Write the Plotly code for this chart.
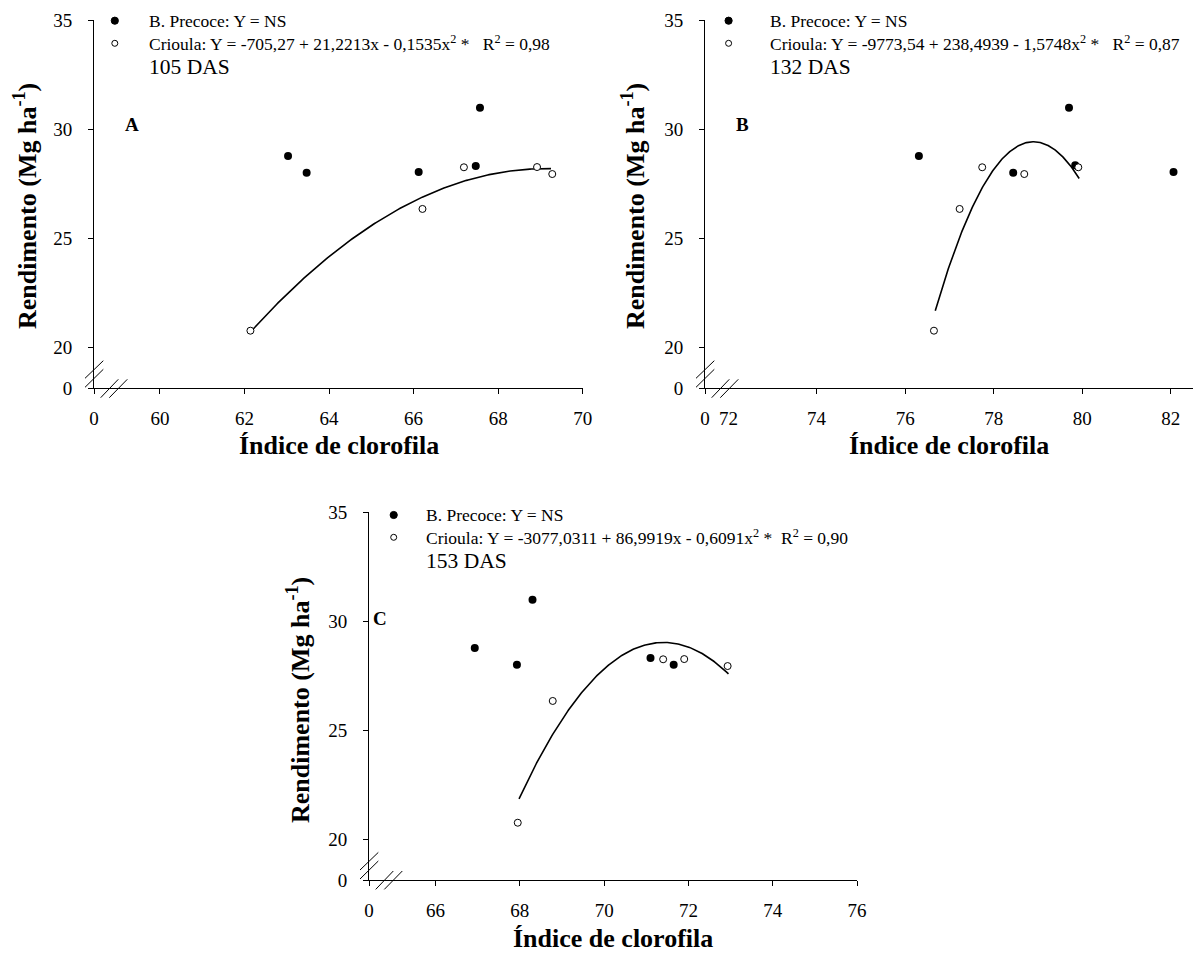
import numpy as np
import plotly.graph_objects as go

W, H = 1193, 954
SERIF = "Liberation Serif"

# ---------------- data ----------------
panels = ["A", "B", "C"]
das_labels = ["105 DAS", "132 DAS", "153 DAS"]

a_precoce_x = [63.03, 63.47, 66.12, 67.47, 67.57]
a_precoce_y = [28.77, 28.00, 28.03, 28.31, 30.98]
a_crioula_x = [62.14, 66.21, 67.19, 68.92, 69.28]
a_crioula_y = [20.76, 26.34, 28.25, 28.26, 27.94]
a_coef = [-705.27, 21.2213, -0.1535]
a_fit_range = [62.15, 69.25]

b_precoce_x = [76.31, 78.44, 79.70, 79.84, 82.06]
b_precoce_y = [28.77, 28.00, 30.98, 28.34, 28.03]
b_crioula_x = [76.65, 77.23, 77.74, 78.69, 79.91]
b_crioula_y = [20.76, 26.34, 28.25, 27.94, 28.25]
b_coef = [-9773.29, 248.4939, -1.5748]
b_fit_range = [76.68, 79.93]

c_precoce_x = [66.93, 67.93, 68.30, 71.10, 71.65]
c_precoce_y = [28.77, 28.00, 30.98, 28.31, 28.00]
c_crioula_x = [67.95, 68.78, 71.40, 71.90, 72.93]
c_crioula_y = [20.76, 26.34, 28.25, 28.26, 27.94]
c_coef = [-3077.0311, 86.9919, -0.6091]
c_fit_range = [67.98, 72.95]

legend_precoce = "B. Precoce: Y = NS"
legend_crioula = [
    "Crioula: Y = -705,27 + 21,2213x - 0,1535x<sup>2</sup> *   R<sup>2</sup> = 0,98",
    "Crioula: Y = -9773,54 + 238,4939 - 1,5748x<sup>2</sup> *   R<sup>2</sup> = 0,87",
    "Crioula: Y = -3077,0311 + 86,9919x - 0,6091x<sup>2</sup> *  R<sup>2</sup> = 0,90",
]

x_ticks = [[60, 62, 64, 66, 68, 70], [74, 76, 78, 80, 82], [66, 68, 70, 72, 74, 76]]
y_ticks = [20, 25, 30, 35]
x_break_extra = [None, 72, None]   # label drawn next to the broken origin

# ---------------- layout geometry (pixels) ----------------
boxes = [(94, 582.7, 20, 388.3), (705, 1193, 20, 388.3), (369, 857, 512, 880)]
x_ranges = [[58.44, 70], [71.48, 82.5], [64.42, 76]]
y_ranges = [[18.12, 35], [18.12, 35], [18.135, 35]]
legend_marker_x = [114.8, 728.6, 393.7]
legend_text_x = [146.6, 767.5, 423.5]
legend_rows = [[20.7, 43.3, 66.7], [20.7, 43.3, 66.7], [515, 537.3, 561]]
letter_pos = [(132, 124), (742, 124), (380, 618)]
ytitle_pos = [(25, 206), (633, 206), (298, 700)]
xtitle_pos = [(339, 445), (949, 445), (613, 938)]


def px(x):
    return x / W


def py(y):
    return 1 - y / H


fig = go.Figure()

data = [
    (a_precoce_x, a_precoce_y, a_crioula_x, a_crioula_y, a_coef, a_fit_range),
    (b_precoce_x, b_precoce_y, b_crioula_x, b_crioula_y, b_coef, b_fit_range),
    (c_precoce_x, c_precoce_y, c_crioula_x, c_crioula_y, c_coef, c_fit_range),
]

annotations = []
shapes = []

for i, (pxs, pys, cxs, cys, coef, fr) in enumerate(data):
    sfx = "" if i == 0 else str(i + 1)
    xa, ya = "x" + sfx, "y" + sfx
    xfit = np.linspace(fr[0], fr[1], 200)
    yfit = coef[0] + coef[1] * xfit + coef[2] * xfit ** 2
    fig.add_trace(go.Scatter(x=xfit, y=yfit, mode="lines",
                             line=dict(color="black", width=1.6),
                             xaxis=xa, yaxis=ya, showlegend=False, hoverinfo="skip"))
    fig.add_trace(go.Scatter(x=pxs, y=pys, mode="markers",
                             marker=dict(symbol="circle", size=8, color="black"),
                             xaxis=xa, yaxis=ya, showlegend=False))
    fig.add_trace(go.Scatter(x=cxs, y=cys, mode="markers",
                             marker=dict(symbol="circle", size=7, color="white",
                                         line=dict(color="black", width=1)),
                             xaxis=xa, yaxis=ya, showlegend=False))

    l, r, t, b = boxes[i]
    xr, yr = x_ranges[i], y_ranges[i]
    axis_style = dict(showline=True, linecolor="black", linewidth=1, ticks="outside",
                      ticklen=5, tickwidth=1, tickcolor="black", showgrid=False,
                      zeroline=False, fixedrange=True, automargin=False,
                      tickfont=dict(family=SERIF, size=19, color="black"))
    xt = [xr[0]] + x_ticks[i]
    xtt = ["0"] + [str(v) for v in x_ticks[i]]
    yt = [yr[0]] + y_ticks
    ytt = ["0"] + [str(v) for v in y_ticks]
    fig.layout["xaxis" + sfx] = dict(axis_style, domain=[px(l), px(r)], range=xr,
                                     anchor=ya, tickvals=xt, ticktext=xtt,
                                     ticklabelstandoff=8)
    fig.layout["yaxis" + sfx] = dict(axis_style, domain=[py(b), py(t)], range=yr,
                                     anchor=xa, tickvals=yt, ticktext=ytt,
                                     ticklabelstandoff=12)

    if x_break_extra[i] is not None:
        annotations.append(dict(x=x_break_extra[i], xref=xa, y=py(b + 30), yref="paper",
                                text=str(x_break_extra[i]), showarrow=False,
                                xanchor="center", yanchor="middle",
                                font=dict(family=SERIF, size=19, color="black")))

    # axis break marks
    cx, cy = l, b
    segs = [((cx - 9, cy - 10), (cx + 9.3, cy - 27.6)),
            ((cx - 9, cy - 1), (cx + 9.3, cy - 19)),
            ((cx + 6.7, cy + 9.4), (cx + 24.3, cy - 9)),
            ((cx + 15.3, cy + 9.4), (cx + 33.3, cy - 9))]
    for (x0, y0), (x1, y1) in segs:
        shapes.append(dict(type="line", xref="paper", yref="paper",
                           x0=px(x0), y0=py(y0), x1=px(x1), y1=py(y1),
                           line=dict(color="black", width=1)))

    # legend
    mx = legend_marker_x[i]
    r0, r1, r2 = legend_rows[i]
    shapes.append(dict(type="circle", xref="paper", yref="paper",
                       x0=px(mx - 3.6), x1=px(mx + 3.6), y0=py(r0 + 3.6), y1=py(r0 - 3.6),
                       fillcolor="black", line=dict(color="black", width=1)))
    shapes.append(dict(type="circle", xref="paper", yref="paper",
                       x0=px(mx - 3), x1=px(mx + 3), y0=py(r1 + 3), y1=py(r1 - 3),
                       fillcolor="white", line=dict(color="black", width=1)))
    tx = legend_text_x[i]
    annotations.append(dict(x=px(tx), y=py(r0), xref="paper", yref="paper",
                            text=legend_precoce, showarrow=False, xanchor="left",
                            yanchor="middle", font=dict(family=SERIF, size=17.5, color="black")))
    annotations.append(dict(x=px(tx), y=py(r1), xref="paper", yref="paper",
                            text=legend_crioula[i], showarrow=False, xanchor="left",
                            yanchor="middle", font=dict(family=SERIF, size=17.5, color="black")))
    annotations.append(dict(x=px(tx), y=py(r2), xref="paper", yref="paper",
                            text=das_labels[i], showarrow=False, xanchor="left",
                            yanchor="middle", font=dict(family=SERIF, size=21.5, color="black")))

    # panel letter
    lx, ly = letter_pos[i]
    annotations.append(dict(x=px(lx), y=py(ly), xref="paper", yref="paper",
                            text="<b>" + panels[i] + "</b>", showarrow=False,
                            xanchor="center", yanchor="middle",
                            font=dict(family=SERIF, size=19, color="black")))
    # axis titles
    tx_, ty_ = ytitle_pos[i]
    annotations.append(dict(x=px(tx_), y=py(ty_), xref="paper", yref="paper",
                            text="<b>Rendimento (Mg ha<sup>-1</sup>)</b>", showarrow=False,
                            textangle=-90, xanchor="center", yanchor="middle",
                            font=dict(family=SERIF, size=26, color="black")))
    tx_, ty_ = xtitle_pos[i]
    annotations.append(dict(x=px(tx_), y=py(ty_), xref="paper", yref="paper",
                            text="<b>Índice de clorofila</b>", showarrow=False,
                            xanchor="center", yanchor="middle",
                            font=dict(family=SERIF, size=26, color="black")))

fig.update_layout(width=W, height=H, margin=dict(l=0, r=0, t=0, b=0, autoexpand=False),
                  paper_bgcolor="white", plot_bgcolor="white",
                  showlegend=False, annotations=annotations, shapes=shapes,
                  font=dict(family=SERIF, color="black"))

fig.write_html("out.html", config={"displayModeBar": False},
               post_script="document.body.style.margin='0';document.body.style.overflow='hidden';")
